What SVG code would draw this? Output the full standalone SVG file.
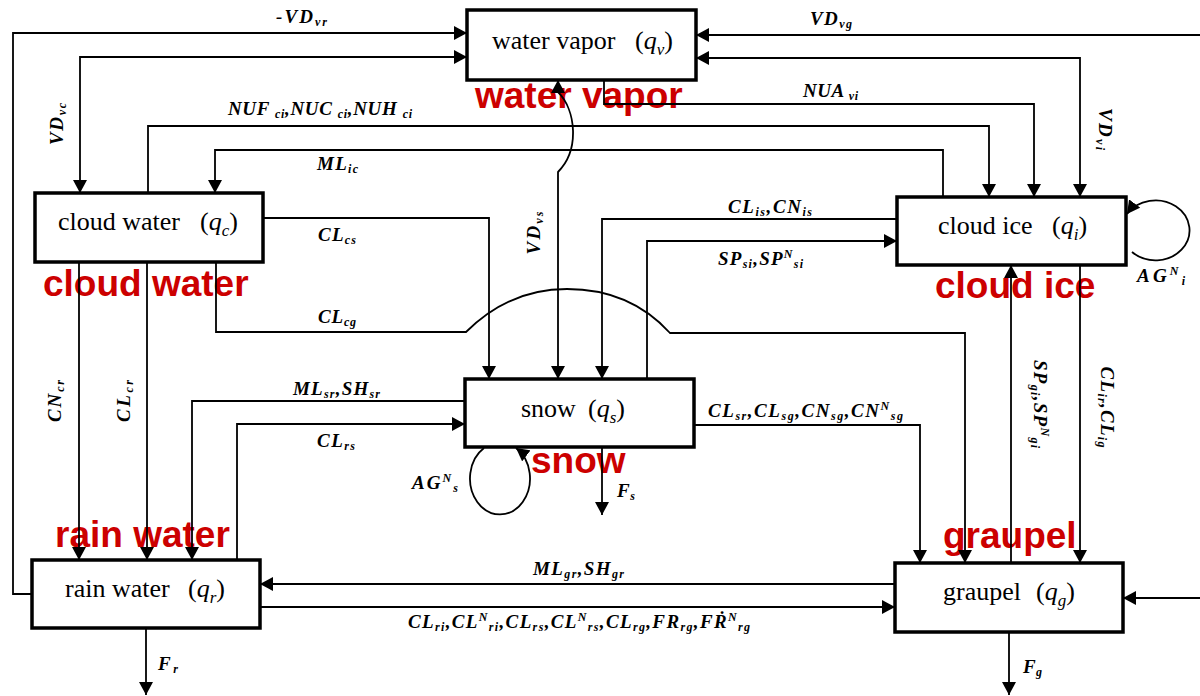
<svg xmlns="http://www.w3.org/2000/svg" width="1200" height="696" viewBox="0 0 1200 696">
<style>
.box{fill:#fff;stroke:#000;stroke-width:3.5}
.bl{font-family:"Liberation Serif",serif;font-size:26px;fill:#000}
.q{font-style:italic}
.qs{font-style:italic;font-size:17px}
.red{font-family:"Liberation Sans",Arial,sans-serif;font-weight:bold;font-size:37px;fill:#cc0000}
.c{fill:none;stroke:#000;stroke-width:1.8}
.a{marker-end:url(#ah)}
.ab{marker-end:url(#ah);marker-start:url(#ah)}
.lb{font-family:"Liberation Serif",serif;font-style:italic;font-weight:bold;font-size:19px;fill:#000}
.s{font-size:12px}
</style>
<defs>
<marker id="ah" markerUnits="userSpaceOnUse" markerWidth="14" markerHeight="14" refX="13" refY="7" orient="auto-start-reverse">
<path d="M0,0 L13,7 L0,14 z" fill="#000"/>
</marker>
</defs>
<rect width="1200" height="696" fill="#fff"/>

<g id="node-water-vapor">
<rect class="box" x="467" y="10" width="229" height="70"/>
<text class="bl" x="492" y="49">water vapor</text>
<text class="bl" x="635" y="49">(<tspan class="q">q</tspan><tspan class="qs" dy="6">v</tspan><tspan dy="-6">)</tspan></text>
<text class="red" x="475" y="108">water vapor</text>
</g>
<g id="node-cloud-water">
<rect class="box" x="35" y="193" width="228" height="69"/>
<text class="bl" x="58" y="230">cloud water</text>
<text class="bl" x="200" y="230">(<tspan class="q">q</tspan><tspan class="qs" dy="6">c</tspan><tspan dy="-6">)</tspan></text>
<text class="red" x="43" y="296">cloud water</text>
</g>
<g id="node-cloud-ice">
<rect class="box" x="897" y="197" width="229" height="68"/>
<text class="bl" x="938" y="234">cloud ice</text>
<text class="bl" x="1052" y="234">(<tspan class="q">q</tspan><tspan class="qs" dy="6">i</tspan><tspan dy="-6">)</tspan></text>
<text class="red" x="935" y="298">cloud ice</text>
</g>
<g id="node-snow">
<rect class="box" x="465" y="379" width="229" height="68"/>
<text class="bl" x="521" y="417">snow</text>
<text class="bl" x="588" y="417">(<tspan class="q">q</tspan><tspan class="qs" dy="6">s</tspan><tspan dy="-6">)</tspan></text>
<text class="red" x="531" y="473">snow</text>
</g>
<g id="node-rain-water">
<rect class="box" x="32" y="560" width="228" height="68"/>
<text class="bl" x="65" y="597">rain water</text>
<text class="bl" x="188" y="597">(<tspan class="q">q</tspan><tspan class="qs" dy="6">r</tspan><tspan dy="-6">)</tspan></text>
<text class="red" x="55" y="547">rain water</text>
</g>
<g id="node-graupel">
<rect class="box" x="895" y="563" width="228" height="69"/>
<text class="bl" x="943" y="600">graupel</text>
<text class="bl" x="1036" y="600">(<tspan class="q">q</tspan><tspan class="qs" dy="6">g</tspan><tspan dy="-6">)</tspan></text>
<text class="red" x="943" y="548">graupel</text>
</g>

<g id="connectors">
<path class="c a" d="M32,594 H13 V33 H467"/>
<path class="c ab" d="M80,193 V57 H467"/>
<path class="c a" d="M148,193 V126 H989 V197"/>
<path class="c a" d="M943,197 V150 H215 V193"/>
<path class="c a" d="M604,80 V104 H1034 V197"/>
<path class="c ab" d="M696,58 H1080 V197"/>
<path class="c a" d="M1200,35 H696"/>
<path class="c a" d="M1200,598 H1123"/>
<path class="c ab" d="M558,80 L558,92 C576,110 580,150 558,172 V379"/>
<path class="c a" d="M263,218 H489 V379"/>
<path class="c a" d="M897,219 H602 V379"/>
<path class="c a" d="M647,379 V241 H897"/>
<path class="c a" d="M216,262 V332 H466 C500,298 535,289 567,289 C605,289 640,300 670,333 H965 V563"/>
<path class="c a" d="M694,425 H920 V563"/>
<path class="c a" d="M1011,563 V265"/>
<path class="c a" d="M1080,265 V563"/>
<path class="c a" d="M1132,252 A34,30 0 1 0 1127,214"/>
<path class="c a" d="M465,401 H192 V560"/>
<path class="c a" d="M237,560 V424 H465"/>
<path class="c a" d="M79,262 V560"/>
<path class="c a" d="M147,262 V560"/>
<path class="c a" d="M895,584 H260"/>
<path class="c a" d="M260,607 H895"/>
<path class="c a" d="M146,628 V695"/>
<path class="c a" d="M602,447 V515"/>
<path class="c a" d="M1009,632 V695"/>
<path class="c a" d="M484,448 A30,36 0 1 0 516,448"/>
</g>

<g id="labels">
<text class="lb" x="276" y="23" textLength="51">-VD<tspan class="s" dy="3">vr</tspan></text>
<text class="lb" x="810" y="25" textLength="42">VD<tspan class="s" dy="3">vg</tspan></text>
<text class="lb" x="803" y="97" textLength="55">NUA <tspan class="s" dy="3">vi</tspan></text>
<text class="lb" x="228" y="115" textLength="184">NUF <tspan class="s" dy="3">ci</tspan><tspan dy="-3">,NUC </tspan><tspan class="s" dy="3">ci</tspan><tspan dy="-3">,NUH </tspan><tspan class="s" dy="3">ci</tspan></text>
<text class="lb" x="317" y="170" textLength="41">ML<tspan class="s" dy="3">ic</tspan></text>
<text class="lb" transform="translate(63,124) rotate(-90)" text-anchor="middle" textLength="42">VD<tspan class="s" dy="3">vc</tspan></text>
<text class="lb" x="318" y="241" textLength="38">CL<tspan class="s" dy="3">cs</tspan></text>
<text class="lb" x="318" y="323" textLength="38">CL<tspan class="s" dy="3">cg</tspan></text>
<text class="lb" x="293" y="395" textLength="87">ML<tspan class="s" dy="3">sr</tspan><tspan dy="-3">,SH</tspan><tspan class="s" dy="3">sr</tspan></text>
<text class="lb" x="317" y="447" textLength="38">CL<tspan class="s" dy="3">rs</tspan></text>
<text class="lb" transform="translate(61,401) rotate(-90)" text-anchor="middle" textLength="42">CN<tspan class="s" dy="3">cr</tspan></text>
<text class="lb" transform="translate(130,401) rotate(-90)" text-anchor="middle" textLength="42">CL<tspan class="s" dy="3">cr</tspan></text>
<text class="lb" transform="translate(540,233) rotate(-90)" text-anchor="middle" textLength="43">VD<tspan class="s" dy="3">vs</tspan></text>
<text class="lb" x="728" y="213" textLength="84">CL<tspan class="s" dy="3">is</tspan><tspan dy="-3">,CN</tspan><tspan class="s" dy="3">is</tspan></text>
<text class="lb" x="718" y="265" textLength="85">SP<tspan class="s" dy="3">si</tspan><tspan dy="-3">,SP</tspan><tspan class="s" dy="-7">N</tspan><tspan class="s" dy="10">si</tspan></text>
<text class="lb" x="708" y="417" textLength="195">CL<tspan class="s" dy="3">sr</tspan><tspan dy="-3">,CL</tspan><tspan class="s" dy="3">sg</tspan><tspan dy="-3">,CN</tspan><tspan class="s" dy="3">sg</tspan><tspan dy="-3">,CN</tspan><tspan class="s" dy="-7">N</tspan><tspan class="s" dy="10">sg</tspan></text>
<text class="lb" x="412" y="489" textLength="46">AG<tspan class="s" dy="-7">N</tspan><tspan class="s" dy="10">s</tspan></text>
<text class="lb" x="617" y="497" textLength="18">F<tspan class="s" dy="3">s</tspan></text>
<text class="lb" x="533" y="575" textLength="91">ML<tspan class="s" dy="3">gr</tspan><tspan dy="-3">,SH</tspan><tspan class="s" dy="3">gr</tspan></text>
<text class="lb" x="408" y="628" textLength="342">CL<tspan class="s" dy="3">ri</tspan><tspan dy="-3">,CL</tspan><tspan class="s" dy="-7">N</tspan><tspan class="s" dy="10">ri</tspan><tspan dy="-3">,CL</tspan><tspan class="s" dy="3">rs</tspan><tspan dy="-3">,CL</tspan><tspan class="s" dy="-7">N</tspan><tspan class="s" dy="10">rs</tspan><tspan dy="-3">,CL</tspan><tspan class="s" dy="3">rg</tspan><tspan dy="-3">,FR</tspan><tspan class="s" dy="3">rg</tspan><tspan dy="-3">,FṘ</tspan><tspan class="s" dy="-7">N</tspan><tspan class="s" dy="10">rg</tspan></text>
<text class="lb" x="158" y="670" textLength="20">F<tspan class="s" dy="3">r</tspan></text>
<text class="lb" x="1023" y="673" textLength="19">F<tspan class="s" dy="3">g</tspan></text>
<text class="lb" transform="translate(1034,404) rotate(90)" text-anchor="middle" textLength="88">SP<tspan class="s" dy="3">gi</tspan><tspan dy="-3">,SP</tspan><tspan class="s" dy="-7">N</tspan><tspan class="s" dy="10">gi</tspan></text>
<text class="lb" transform="translate(1101,407) rotate(90)" text-anchor="middle" textLength="81">CL<tspan class="s" dy="3">ir</tspan><tspan dy="-3">,CL</tspan><tspan class="s" dy="3">ig</tspan></text>
<text class="lb" transform="translate(1099,129) rotate(90)" text-anchor="middle" textLength="42">VD<tspan class="s" dy="3">vi</tspan></text>
<text class="lb" x="1137" y="282" textLength="48">AG<tspan class="s" dy="-7">N</tspan><tspan class="s" dy="10">i</tspan></text>
</g>
</svg>
